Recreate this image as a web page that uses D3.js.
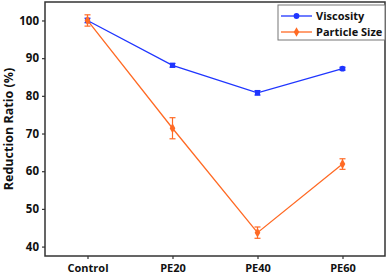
<!DOCTYPE html>
<html><head><meta charset="utf-8">
<script src="https://cdn.jsdelivr.net/npm/d3@7/dist/d3.min.js"></script>
<style>body{margin:0;background:#fff}svg{display:block}text{font-family:"Open Sans","Liberation Sans",sans-serif;font-weight:bold;fill:#111}</style>
</head><body>
<script>
const categories = ["Control","PE20","PE40","PE60"];
const viscosity = [100, 88.1, 80.8, 87.2];
const viscosityErr = [0.6, 0.5, 0.6, 0.4];
const particle = [100, 71.4, 43.7, 61.9];
const particleErr = [1.5, 2.8, 1.5, 1.4];
const yTicks = [40,50,60,70,80,90,100];
const seriesNames = ["Viscosity","Particle Size"];

const W=388,H=276, L=45,R=385,T=2,B=256;
const svg=d3.select("body").append("svg").attr("width",W).attr("height",H);
const x=d3.scalePoint().domain(categories).range([L,R]).padding(0.5);
const y=d3.scaleLinear().domain([37.5,104.9]).range([B,T]);
const blue="#1f35ff", orange="#ff6a24";

svg.append("rect").attr("x",L).attr("y",T).attr("width",R-L).attr("height",B-T).attr("fill","none").attr("stroke","#333").attr("stroke-width",1.5);

const ya=svg.append("g").attr("transform",`translate(${L},0)`).call(d3.axisLeft(y).tickValues(yTicks).tickSize(3).tickPadding(3));
const xa=svg.append("g").attr("transform",`translate(0,${B})`).call(d3.axisBottom(x).tickSize(3).tickPadding(3));
[ya,xa].forEach(g=>{g.select(".domain").remove();g.selectAll("line").attr("stroke","#333").attr("stroke-width",1.2);g.selectAll("text").attr("font-size",11.5).style("font-family","'Open Sans',sans-serif").style("font-weight","bold").attr("fill","#111");});
xa.selectAll("text").attr("font-size",11).attr("dy","0.9em");

svg.append("text").attr("transform",`translate(13,${(T+B)/2}) rotate(-90)`).attr("text-anchor","middle").attr("font-size",12.5).text("Reduction Ratio (%)");

function series(vals,errs,color,shape){
  const g=svg.append("g");
  g.append("path").datum(vals).attr("fill","none").attr("stroke",color).attr("stroke-width",1.3)
   .attr("d",d3.line().x((d,i)=>x(categories[i])).y(d=>y(d)));
  vals.forEach((v,i)=>{
    const cx=x(categories[i]);
    const y1=y(v+errs[i]), y2=y(v-errs[i]);
    g.append("line").attr("x1",cx).attr("x2",cx).attr("y1",y1).attr("y2",y2).attr("stroke",color).attr("stroke-width",1.2);
    [y1,y2].forEach(yy=>g.append("line").attr("x1",cx-3).attr("x2",cx+3).attr("y1",yy).attr("y2",yy).attr("stroke",color).attr("stroke-width",1.2));
    const sym = shape==="square" ? (i===3? d3.symbolCircle : d3.symbolSquare) : d3.symbolDiamond;
    g.append("path").attr("d",d3.symbol().type(sym).size(shape==="square"?26:28)()).attr("transform",`translate(${cx},${y(v)})`).attr("fill",color);
  });
}
series(viscosity,viscosityErr,blue,"square");
series(particle,particleErr,orange,"diamond");

// legend
const lg=svg.append("g");
lg.append("rect").attr("x",278).attr("y",5).attr("width",107).attr("height",35).attr("fill","#fff").attr("stroke","#777").attr("stroke-width",1);
[[blue,d3.symbolCircle,16],[orange,d3.symbolDiamond,32]].forEach((s,i)=>{
  const yy=s[2];
  lg.append("line").attr("x1",281).attr("x2",312).attr("y1",yy).attr("y2",yy).attr("stroke",s[0]).attr("stroke-width",1.3);
  lg.append("path").attr("d",d3.symbol().type(s[1]).size(26)()).attr("transform",`translate(296.5,${yy})`).attr("fill",s[0]);
  lg.append("text").attr("x",316).attr("y",yy).attr("dy","0.36em").attr("font-size",11).text(seriesNames[i]);
});
</script>
</body></html>
